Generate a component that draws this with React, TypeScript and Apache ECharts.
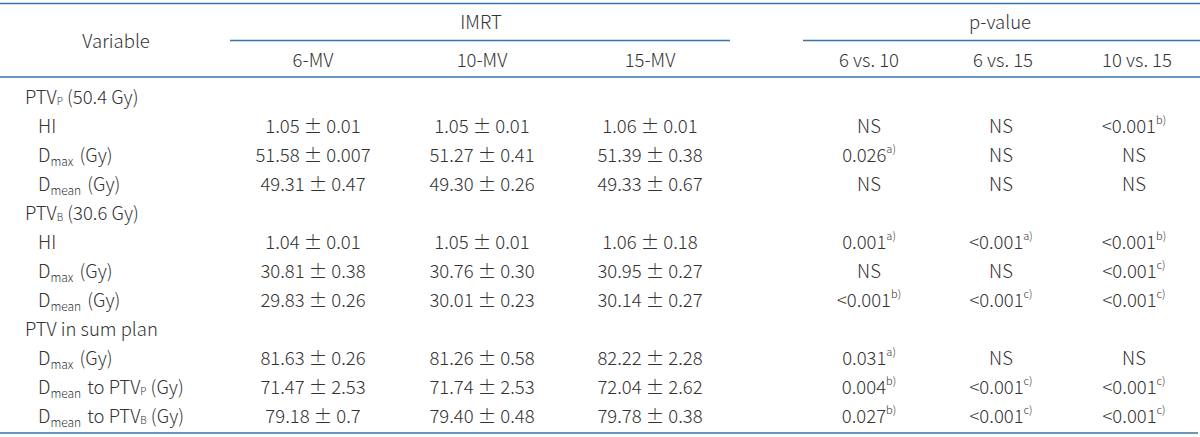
import React, { useEffect, useRef } from "react";
import * as echarts from "echarts";

// ---- Table content ----
const imrtHeaders = ["6-MV", "10-MV", "15-MV"];
const pHeaders = ["6 vs. 10", "6 vs. 15", "10 vs. 15"];

// Variable labels (rich-text tokens: {sub|..} subscript, {sc|..} small subscript)
const variableLabels = [
  "PTV{sc|P} (50.4 Gy)",
  "HI",
  "D{sub|max} (Gy)",
  "D{sub|mean} (Gy)",
  "PTV{sc|B} (30.6 Gy)",
  "HI",
  "D{sub|max} (Gy)",
  "D{sub|mean} (Gy)",
  "PTV in sum plan",
  "D{sub|max} (Gy)",
  "D{sub|mean} to PTV{sc|P} (Gy)",
  "D{sub|mean} to PTV{sc|B} (Gy)",
];
const isGroupRow = [true, false, false, false, true, false, false, false, true, false, false, false];

const mean6MV = ["", "1.05", "51.58", "49.31", "", "1.04", "30.81", "29.83", "", "81.63", "71.47", "79.18"];
const sd6MV = ["", "0.01", "0.007", "0.47", "", "0.01", "0.38", "0.26", "", "0.26", "2.53", "0.7"];
const mean10MV = ["", "1.05", "51.27", "49.30", "", "1.05", "30.76", "30.01", "", "81.26", "71.74", "79.40"];
const sd10MV = ["", "0.01", "0.41", "0.26", "", "0.01", "0.30", "0.23", "", "0.58", "2.53", "0.48"];
const mean15MV = ["", "1.06", "51.39", "49.33", "", "1.06", "30.95", "30.14", "", "82.22", "72.04", "79.78"];
const sd15MV = ["", "0.01", "0.38", "0.67", "", "0.18", "0.27", "0.27", "", "2.28", "2.62", "0.38"];

const p6vs10 = ["", "NS", "0.026", "NS", "", "0.001", "NS", "<0.001", "", "0.031", "0.004", "0.027"];
const fn6vs10 = ["", "", "a)", "", "", "a)", "", "b)", "", "a)", "b)", "b)"];
const p6vs15 = ["", "NS", "NS", "NS", "", "<0.001", "NS", "<0.001", "", "NS", "<0.001", "<0.001"];
const fn6vs15 = ["", "", "", "", "", "a)", "", "c)", "", "", "c)", "c)"];
const p10vs15 = ["", "<0.001", "NS", "NS", "", "<0.001", "<0.001", "<0.001", "", "NS", "<0.001", "<0.001"];
const fn10vs15 = ["", "b)", "", "", "", "b)", "c)", "c)", "", "", "c)", "c)"];

// ---- Layout / style ----
const W = 1200;
const H = 437;
const FONT = "'Noto Sans CJK KR', 'Noto Sans', sans-serif";
const TEXT = "#333333";
const LINE = "#3673aa";
const FS = 18.5;
const ROW0 = 96;
const ROWSTEP = 29;
const imrtX = [313, 482, 650];
const pHeadX = [869, 1003, 1137];
const pBodyX = [869, 1001, 1134];

const rich = {
  sub: { fontSize: 12, fontFamily: FONT, fontWeight: 300, fill: TEXT, lineHeight: 26, padding: [12, 2, 0, 0] },
  sc: { fontSize: 10, fontFamily: FONT, fontWeight: 300, fill: TEXT, lineHeight: 26, padding: [9, 0, 0, 0] },
  sup: { fontSize: 11, fontFamily: FONT, fontWeight: 300, fill: TEXT, lineHeight: 26, padding: [0, 0, 12, 0] },
};

function txt(x: number, y: number, text: string, align: string = "center") {
  return {
    type: "text",
    x,
    y,
    silent: true,
    style: {
      text,
      fontSize: FS,
      fontFamily: FONT,
      fontWeight: 300,
      fill: TEXT,
      align,
      verticalAlign: "middle",
      lineHeight: 26,
      rich,
    },
  };
}

function hline(x1: number, x2: number, y: number) {
  return {
    type: "line",
    silent: true,
    shape: { x1, y1: y, x2, y2: y },
    style: { stroke: LINE, lineWidth: 1.6 },
  };
}

export default function App() {
  const ref = useRef<HTMLDivElement>(null);
  useEffect(() => {
    if (!ref.current) return;
    const chart = echarts.init(ref.current, undefined, { renderer: "svg" });
    const els: any[] = [];
    els.push(hline(0, W, 3.5));
    els.push(hline(230, 730, 40.5));
    els.push(hline(803, W, 40.5));
    els.push(hline(0, W, 77));
    els.push(hline(0, 1198, 433));

    els.push(txt(116, 40, "Variable"));
    els.push(txt(481, 21, "IMRT"));
    els.push(txt(1000, 21, "p-value"));
    imrtHeaders.forEach((h, i) => els.push(txt(imrtX[i], 59, h)));
    pHeaders.forEach((h, i) => els.push(txt(pHeadX[i], 59, h)));

    const means = [mean6MV, mean10MV, mean15MV];
    const sds = [sd6MV, sd10MV, sd15MV];
    const ps = [p6vs10, p6vs15, p10vs15];
    const fns = [fn6vs10, fn6vs15, fn10vs15];

    variableLabels.forEach((lab, r) => {
      const y = ROW0 + ROWSTEP * r;
      els.push(txt(isGroupRow[r] ? 25 : 38, y, lab, "left"));
      if (isGroupRow[r]) return;
      for (let c = 0; c < 3; c++) {
        els.push(txt(imrtX[c], y, `${means[c][r]} ± ${sds[c][r]}`));
        const fn = fns[c][r];
        els.push(txt(pBodyX[c], y, ps[c][r] + (fn ? `{sup|${fn}}` : "")));
      }
    });

    chart.setOption({
      animation: false,
      backgroundColor: "#ffffff",
      graphic: { elements: els },
    });
    return () => chart.dispose();
  }, []);
  return (
    <div
      ref={ref}
      style={{ position: "absolute", left: 0, top: 0, width: W, height: H, background: "#fff" }}
    />
  );
}
